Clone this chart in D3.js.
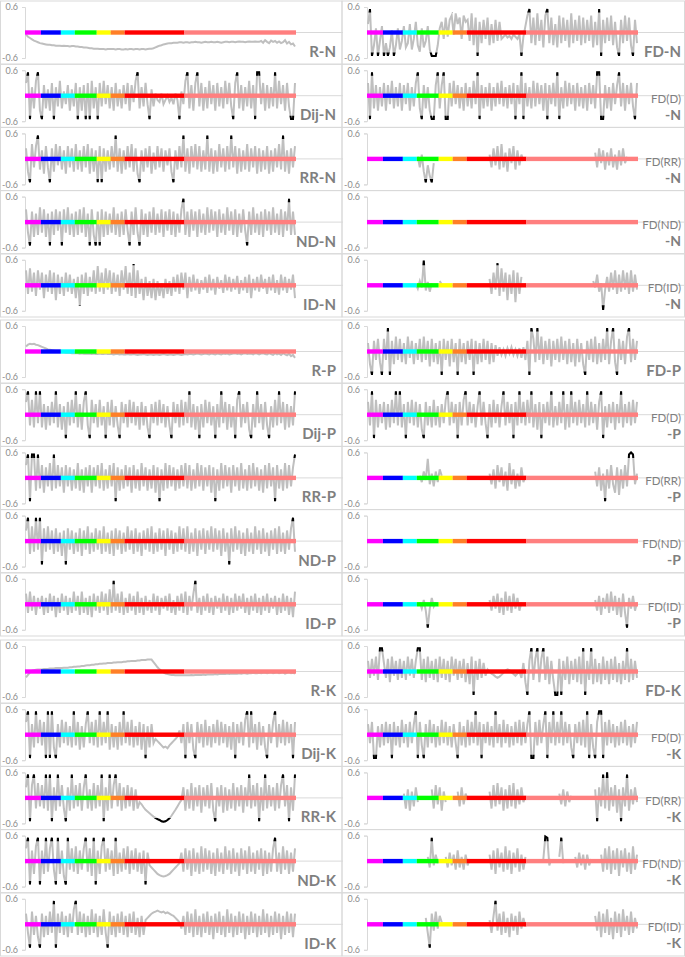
<!DOCTYPE html>
<html>
<head>
<meta charset="utf-8">
<script src="https://cdn.jsdelivr.net/npm/d3@7"></script>
<style>
  body { margin: 0; background: #fff; }
  svg { display: block; font-family: Lato, "Open Sans", sans-serif; }
</style>
</head>
<body>
<svg id="chart" width="685" height="957"></svg>
<script>
// ---- data (values in hundredths) ----
// band categories along the x axis, size = number of positions
const bandNames = ["magenta", "blue", "cyan", "green", "yellow", "orange", "red", "salmon"];
const bandSizes = [8, 10, 7, 11, 7, 7, 30, 56];
const yTicks = [-0.6, 0.6];

const leftLabels = ["R-N", "Dij-N", "RR-N", "ND-N", "ID-N", "R-P", "Dij-P", "RR-P", "ND-P", "ID-P", "R-K", "Dij-K", "RR-K", "ND-K", "ID-K"];
const rightLabels = ["FD-N", "FD(D)|-N", "FD(RR)|-N", "FD(ND)|-N", "FD(ID)|-N", "FD-P", "FD(D)|-P", "FD(RR)|-P", "FD(ND)|-P", "FD(ID)|-P", "FD-K", "FD(D)|-K", "FD(RR)|-K", "FD(ND)|-K", "FD(ID)|-K"];

// left column
const rN = [-5,-10,-13,-16,-19,-21,-23,-25, -26,-27,-28,-29,-29,-30,-30,-31,-31,-31, -32,-31,-32,-32,-33,-32,-32,
  -33,-33,-34,-34,-35,-35,-36,-37,-37,-38,-38, -38,-39,-39,-39,-40,-39,-39, -39,-39,-40,-39,-39,-40,-40,
  -39,-40,-39,-39,-40,-39,-39,-40,-39,-39,-40,-39,-38,-38,-37,-35,-33,-31,-30,-28,-27,-26,-25,-25,-24,-24,-24,-23,-23,-24,
  -23,-23,-24,-23,-23,-22,-23,-23,-24,-23,-22,-23,-23,-22,-23,-23,-22,-23,-24,-23,-22,-22,-23,-22,-22,-23,-22,-21,-22,-22,
  -23,-22,-21,-22,-22,-21,-22,-22,-20,-24,-18,-22,-25,-19,-22,-20,-24,-21,-25,-23,-18,-26,-22,-28,-26,-33];
const dijN = [30,55,-55,20,-30,35,55,-35, -55,25,-30,15,-35,30,-55,20,-25,35, -30,10,-20,25,-35,15,-25,
  30,-55,20,-35,25,-55,30,-55,35,-30,20, -55,30,-25,35,-20,25,-30, 20,-35,30,-25,15,-30,25,
  -20,30,-35,25,-15,35,55,-30,20,-25,30,-20,-55,15,-25,5,-10,-15,5,-20,-10,0,-15,-5,-20,5,-10,-55,10,-20,
  35,55,-30,25,-35,30,55,-25,30,-35,20,-30,35,-20,25,-35,30,-25,20,-30,35,-20,30,-25,-55,30,55,-30,25,-35,
  20,-25,35,-30,25,-55,55,55,-20,30,-35,25,-30,20,-25,55,-30,35,-20,25,-35,30,-25,-55,-55,30];
const rrN = [25,-30,-55,35,-20,30,55,-25, 20,-35,30,-20,-55,25,-30,35,-15,30, -25,20,-35,30,-20,25,-30,
  35,-25,20,-30,30,-20,35,-35,25,-30,20, -55,30,-55,25,-30,20,-25, 30,-20,55,-30,25,-35,20,
  -25,30,-20,35,-30,25,-35,-55,20,-30,25,-20,30,-35,15,-25,30,-20,25,-30,20,-15,25,-30,-55,20,-25,30,-20,55,
  -30,25,-35,30,-20,35,-25,30,-30,20,-25,55,-30,25,-35,20,-30,35,-20,25,-30,30,-25,55,-20,30,-35,25,-30,20,
  -25,35,-30,25,-20,30,-35,25,-30,20,-25,30,-35,20,-30,25,-20,35,-25,55,-30,20,-35,25,-20,30];
const ndN = [30,-25,-55,25,-35,20,-30,35, -25,30,-35,20,-55,25,-30,30,-20,25, -55,30,-25,35,-30,20,-35,
  25,-30,30,-25,35,-35,20,-55,30,-30,-55, 25,-55,30,-35,25,-30,20, -25,35,-30,20,-35,25,-30,
  30,-20,-55,25,-30,35,-25,-55,30,-30,20,-35,25,-25,35,-30,20,-25,30,-35,25,-20,30,-30,25,-35,20,-25,30,55,
  -30,25,-35,30,-20,25,-35,30,-25,20,-30,35,-25,30,-20,25,-35,30,-25,20,-30,35,-20,25,-30,30,-35,20,-25,30,
  -20,-55,25,-30,35,-25,20,-30,25,-35,30,-20,25,-30,35,-25,20,-30,30,-35,25,-20,55,-30,25,-30];
const idN = [35,-20,40,-15,30,-25,35,-10, 30,-30,25,-15,35,-20,30,-35,25,-20, 20,-25,30,-15,25,-20,15,
  -30,20,-48,25,-20,30,-25,20,-15,35,-20, 45,-15,30,-20,40,-10,35, -20,30,-15,25,-25,35,-10,
  45,-20,30,-25,50,-30,35,-20,15,-35,20,-25,10,-30,15,-35,10,-25,5,-30,15,-20,10,-25,20,-15,25,-20,30,-10,
  30,-30,20,-15,25,-12,15,-20,12,-10,20,-18,25,-12,15,-22,20,-8,12,-18,25,-12,20,-15,15,-10,22,-20,12,-12,
  20,-18,25,-30,15,-12,20,-15,25,-8,15,-20,20,-12,25,-18,12,-22,25,-12,20,-18,15,-10,25,-30];
const rP = [12,16,18,17,18,16,15,13, 11,9,7,5,4,3,2,1,0,-1, -2,-2,-3,-3,-3,-4,-4,
  -4,-4,-5,-4,-5,-5,-5,-5,-6,-5,-6, -6,-5,-6,-6,-5,-6,-6, -6,-7,-6,-6,-7,-6,-7,
  -7,-6,-7,-7,-6,-7,-8,-7,-7,-6,-7,-8,-7,-7,-8,-7,-7,-8,-7,-6,-7,-8,-7,-7,-8,-7,-6,-7,-8,-7,
  -6,-7,-6,-6,-7,-6,-5,-6,-7,-6,-5,-6,-7,-5,-6,-7,-5,-6,-7,-5,-6,-5,-7,-6,-5,-4,-6,-5,-7,-5,
  -4,-6,-5,-5,-7,-4,-5,-7,-5,-4,-6,-7,-4,-6,-8,-4,-7,-5,-8,-4,-7,-9,-5,-11,-8,-15];
const dijP = [30,55,-25,35,-30,55,-20,55, -30,25,-35,20,-25,30,-20,55,-30,25, -35,20,-55,30,-25,35,-20,
  55,-30,25,-35,30,55,-25,-55,35,-20,25, -30,35,-25,20,-55,30,-25, 35,-30,20,-25,-55,30,-20,
  25,-30,35,-20,30,-25,20,-35,30,-25,20,-30,-55,25,-20,30,-25,35,-20,25,-30,20,-25,-55,30,-20,25,-30,35,-25,
  30,-20,55,-30,25,-35,20,-55,25,-30,35,-20,30,-25,20,-55,25,-30,55,-20,30,-35,25,-30,20,-55,35,55,-30,25,
  -20,30,-35,-55,25,-30,55,-20,25,-35,30,-25,-55,20,-30,35,-25,55,-20,30,-35,25,-30,20,-25,55];
const rrP = [30,55,-55,55,55,-30,55,-25, 30,-35,25,-20,35,-30,55,-25,30,-20, 25,-35,30,-20,25,-30,20,
  -25,35,-30,20,-35,25,-20,30,-35,25,-20, 30,-25,35,-30,20,-25,30, -20,35,-55,25,-30,20,-25,
  30,-20,25,-35,30,-25,20,-30,35,-20,25,-30,20,-25,30,-35,25,-55,20,-30,35,-25,30,-20,25,-30,20,-25,30,-20,
  35,-25,30,-30,20,-25,35,-20,30,-30,25,-20,30,-35,25,-55,20,-30,35,-25,30,-20,25,-35,30,-20,25,-30,35,-25,
  20,-30,30,-25,35,-20,25,-30,20,-35,30,-25,35,-20,25,-55,30,-25,20,-30,35,-25,30,-20,25,55];
const ndP = [25,55,-30,35,-25,55,-20,55, -55,30,-25,35,-20,25,-30,30,-25,20, -35,25,-55,30,-20,25,-30,
  20,-25,30,-35,25,-20,35,-30,20,-25,30, -20,25,-30,35,-25,20,-30, 25,-35,30,-20,25,-30,20,
  -25,35,-20,25,-30,30,-25,20,-35,25,-20,30,-25,35,-30,20,-25,30,-20,25,-35,30,-20,25,-30,20,-25,35,-20,30,
  -25,35,-30,20,-25,30,-35,25,-20,30,-30,25,-20,35,-25,30,-20,25,-35,30,-25,20,-55,30,-25,35,-20,25,-30,20,
  -35,30,-25,20,-30,35,-20,25,-30,30,-25,20,-35,25,-20,30,-30,35,-25,20,-30,25,-20,30,55,-25];
const idP = [25,-20,30,-15,20,-25,15,-10, 20,-25,15,-20,25,-15,20,-30,15,-20, 25,-15,20,-25,15,-20,30,
  -15,20,-25,30,-20,15,-25,20,-30,25,-15, 20,-20,30,-15,25,-25,35, -20,55,-15,25,-20,30,-25,
  15,-20,25,-15,20,-25,30,-20,15,-25,20,-15,10,-20,25,-15,20,-25,15,-10,20,-15,25,-20,10,-25,20,-15,25,-20,
  30,-25,20,-15,25,55,-20,15,-25,20,-15,25,-20,15,-25,20,-10,15,-20,25,-15,20,-25,15,-20,25,-15,20,-10,25,
  -20,15,-25,20,-15,25,-20,15,-25,20,-15,25,-20,15,-10,20,-25,15,-20,25,-15,20,-25,15,-30,30];
const rK = [-14,-8,-2,2,3,4,5,5, 5,6,6,6,7,7,7,8,8,8, 8,9,9,9,10,10,11,
  11,12,12,13,13,14,15,15,16,16,17, 17,18,18,19,19,20,20, 20,21,21,22,22,22,23,
  23,24,24,25,25,25,26,26,27,27,27,28,28,28,22,16,10,5,1,-2,-5,-6,-7,-8,-8,-9,-9,-9,-9,-9,
  -9,-9,-9,-8,-9,-8,-8,-8,-8,-7,-8,-7,-7,-7,-7,-6,-7,-6,-6,-6,-6,-5,-6,-5,-5,-5,-5,-4,-5,-4,
  -4,-5,-4,-4,-3,-4,-4,-3,-4,-3,-3,-4,-3,-2,-4,-3,-2,-4,-3,-2,-5,-3,-2,-4,-3,-5];
const dijK = [30,55,-55,25,-30,55,-20,35, -25,30,-55,55,-55,55,-30,-55,25,-30, 35,-20,30,-25,20,-30,55,
  -25,30,-35,20,-30,25,55,-20,30,-25,35, -30,55,-25,30,-20,55,-35, 25,-30,20,-35,30,-25,55,
  -20,30,-25,35,-30,20,-25,30,-35,25,-55,20,-30,25,-20,-10,-15,-20,-25,-30,-28,-32,-25,-20,-15,-10,-5,10,-20,25,
  -55,30,-20,25,-35,-55,30,-20,25,-30,35,-25,20,-30,25,-20,35,-25,30,-20,25,-30,20,-35,30,-55,25,-20,30,-25,
  35,55,-30,55,-20,25,-35,30,-25,20,-30,-55,25,-20,30,55,-30,25,-20,35,-25,30,-20,25,-55,30];
const rrK = [25,55,-55,30,55,-25,35,-20, 30,-25,55,-30,55,-55,25,-30,55,-20, 30,-25,-55,25,-30,55,-25,
  30,-20,35,-30,25,55,-25,20,-30,35,-25, 30,-20,55,-55,25,-30,55, -25,30,55,-20,35,-30,25,
  -25,30,-20,25,-30,20,-25,-10,-15,-22,-28,-32,-36,-40,-44,-47,-50,-52,-55,-56,-55,-52,-48,-42,-35,-28,-20,-12,-5,25,
  -30,20,-25,35,-30,25,-20,30,-35,25,-20,30,-25,35,-30,-55,25,-20,30,-35,25,-30,20,-25,35,-30,25,-20,30,-35,
  25,-20,55,-25,30,-20,35,-55,25,-30,55,-25,30,-20,25,-30,35,-25,30,55,-20,30,-55,25,-30,55];
const ndK = [30,55,-55,25,-30,35,55,-55, 25,-30,55,-25,30,55,-20,-55,55,-30, 25,-35,-55,55,-20,30,-25,
  35,-30,25,-20,30,55,-25,30,-35,55,-55, 25,-30,35,55,-25,30,-20, 25,-35,55,-30,20,-25,30,
  -20,35,-30,25,-20,30,-25,20,-30,25,-55,20,-10,-15,-20,-25,-30,-33,-35,-36,-35,-33,-30,-25,-20,-15,-10,-5,20,-25,
  30,-20,25,-35,30,-25,20,-30,35,-25,30,-20,25,-30,20,-35,30,-25,20,-30,35,-20,25,-30,30,-25,20,-35,30,-20,
  25,-30,35,-25,20,-30,25,-20,30,-35,25,-30,20,-25,30,55,-25,20,-30,35,-20,25,-30,20,-25,30];
const idK = [25,-20,-55,30,-25,20,-30,-55, 25,-30,20,-25,30,-20,55,-55,25,-20, 30,-25,20,-30,25,-20,35,
  55,-25,30,-20,25,-30,20,-25,35,-20,25, -30,20,-25,35,-20,-55,30, -25,20,-30,25,-20,30,-25,
  20,-30,25,-20,30,-25,15,-30,20,-25,10,15,20,25,28,30,32,30,28,30,26,28,25,22,20,15,10,5,-10,20,
  -25,30,-20,25,-30,35,-25,20,-30,25,-20,30,-25,20,-35,25,-20,30,-25,20,-30,35,-20,25,-30,20,-25,30,-20,25,
  -35,20,-25,30,-20,25,-30,20,-25,35,-20,25,-30,20,-25,30,-20,25,-35,20,-25,30,-20,25,-30,25];

// right column (sparse ones are [start position, values] runs)
const fdN = [20,55,-55,-30,10,-55,-20,15, -55,-25,-55,-35,5,-55,-30,10,-40,-20, 15,-35,-25,20,-40,-15,25,
  -30,-45,10,-35,-20,15,-40,-55,-55,-55,-30, 10,25,-15,35,-10,30,40, -5,45,20,35,-15,40,25,
  30,-20,45,-30,35,-55,25,-25,30,-15,35,-30,20,-25,30,-20,25,-15,-10,-5,-12,-8,-15,-5,-10,-15,-5,-55,-10,15,
  40,55,-25,35,-30,45,-20,30,-35,40,55,-25,35,-30,20,-35,40,-25,35,-20,30,-35,45,-25,30,-20,40,-30,35,-25,
  30,-20,40,-35,25,-30,55,-55,30,-25,35,-20,40,-30,25,-35,-55,30,-25,40,-20,35,-30,-55,30,-25];
const fdD_N = [30,-55,55,-30,25,-35,20,-25, 30,-35,25,-20,35,-30,20,-25,30,-35, 25,-20,30,-35,20,-25,30,
  55,-30,-55,25,-30,20,-35,-55,-55,25,55, -30,25,55,-55,-55,30,-25, 35,-20,25,-30,20,-35,30,
  -25,20,-30,35,-20,55,-55,25,-30,20,-25,30,-35,20,-25,30,-20,35,-25,20,-30,25,-20,30,-55,25,-20,55,-55,30,
  -25,20,-30,35,-25,30,-20,25,-35,30,-55,25,-20,30,-25,55,-55,20,-30,35,-25,30,-20,25,-35,30,-25,20,-30,25,
  -35,30,-20,25,-30,55,55,-55,-55,25,-30,20,-35,30,-20,25,55,-25,30,-35,25,-20,30,-25,-55,30];
const fdRR_N = [[25, [5,-20,10,-30,-55,-15,-40,-55,-10]],
  [61, [10,-20,25,-15,30,-25,35,-20,15,-30,25,-10,30,-25,20,-15,10,-5]],
  [114, [15,-20,25,-10,20,-25,15,-15,25,-20,10,-25,20,-15,25,-10,5]]];
const fdND_N = [];
const fdID_N = [[24, [3,-8,10,-5,58,-12,8,-15,5]], [36, [10,2]],
  [61, [15,-20,30,-10,52,-25,40,-15,30,-35,25,-20,35,-40,30,-20,20]],
  [113, [10,-5,25,-15,5,-58,-10,20,-15,30,-10,35,-20,25,-15,35,-10,30,-20,35,-15,25,-10]]];
const fdP = [20,-30,-55,25,-20,30,-25,-55, 30,-20,55,-55,25,-30,35,-20,30,-25, 20,-30,35,-15,25,-30,20,
  -20,30,-25,35,-20,25,-35,30,-25,20,-30, 25,-55,30,-20,25,-35,30, -25,20,-55,30,-25,20,-30,
  25,-20,30,-55,25,-30,20,-25,30,-20,25,-30,20,-25,15,-10,10,-8,5,-10,8,-5,10,-8,5,-10,8,-15,10,-20,
  25,-55,55,30,-25,55,-20,35,-30,25,-20,30,-35,25,-20,30,-25,35,-20,25,-30,30,-25,20,-35,30,-25,20,-30,-55,
  25,-20,30,-25,35,-30,20,-25,30,-20,55,-30,25,55,-25,-55,30,-20,25,-30,35,55,-25,30,-20,25];
const fdD_P = [30,-25,55,-55,35,-30,25,-20, 30,-35,25,-30,35,-20,55,-25,55,-30, 25,-55,30,-20,35,-25,30,
  -30,25,-35,-55,30,-25,20,-30,35,-25,20, -30,25,-20,35,55,-25,30, -20,25,-55,30,-25,35,55,
  -25,30,-20,25,-30,20,55,-25,30,-20,-55,25,-30,35,-20,25,-30,20,55,-25,30,-20,25,-55,30,-25,55,-20,30,-25,
  35,-20,55,-30,25,-35,30,-55,25,-20,30,-25,55,-30,20,-25,30,-20,55,-35,25,-30,55,-20,30,-25,35,-20,25,-30,
  55,-25,30,-20,25,-35,30,55,-55,20,-30,25,-20,30,-35,25,-20,55,-30,25,-20,30,-25,35,-20,30];
const fdRR_P = [[26, [5,-10,15,-5,45,-15,10,-20,15,-10,20,5]],
  [61, [10,-15,20,-25,30,-10,25,-20,15,-30,35,-15,20,-25,10,-20,25,-10,5]],
  [114, [15,-20,25,-30,10,-55,20,-25,30,-15,-35,25,-40,20,-25,30,-20,55,60,55,-15,10]]];
const fdND_P = [];
const fdID_P = [[26, [5,-10,10,-15,-55,-10,15,-5,5]],
  [61, [10,-15,20,-10,25,-20,15,-25,30,-15,20,-20,25,-10,15,-15,5]],
  [114, [10,-15,20,-25,15,-10,25,-20,30,-15,20,-25,15,-30,25,-20,-55,15,-10,20,-15,5]]];
const fdK = [25,-15,30,-10,35,-20,55,55, 20,-15,30,-25,35,-10,25,-20,30,-15, 25,-20,35,-10,30,-15,25,
  55,55,-20,30,-25,35,-15,25,-20,30,-25, 35,-15,30,-20,25,-25,35, -10,30,-20,25,-15,30,-25,
  20,-30,35,-55,25,-20,30,-15,20,-10,5,0,-5,-8,-12,-15,-12,-8,-3,2,5,3,-2,-6,-10,-5,0,-15,20,-25,
  -55,25,55,-20,30,55,-25,30,55,-20,35,-30,25,-20,-55,-55,30,-55,25,-20,35,-30,25,-20,30,-25,35,-30,55,-55,
  25,-20,55,-30,30,-25,20,-30,35,-20,25,-30,30,-20,35,-25,20,-30,25,-20,55,-25,30,-20,25,-15];
const fdD_K = [25,-20,30,-55,-55,20,-30,25, -25,30,-20,25,-55,30,-25,20,-30,35, -20,25,-30,30,-20,25,55,
  -55,30,-25,-55,25,-30,35,-20,25,-30,20, -25,35,-20,30,-25,20,-30, 25,-20,-55,30,-25,20,-30,
  35,-25,30,-20,55,-25,30,-55,25,-20,30,-25,20,-30,55,-20,25,-30,35,-20,25,-30,20,-25,30,-20,35,-25,30,-20,
  25,55,-55,-55,30,-25,35,-20,25,55,-55,30,-20,55,-25,30,-20,55,-25,30,-20,25,-30,-55,25,-20,30,-25,35,-30,
  55,-55,25,-30,-55,30,55,55,-55,30,-25,35,-20,25,-30,20,-25,30,-20,35,-25,20,-30,25,-20,30];
const fdRR_K = [[18, [10,-25,20,-30,15,-20,25,-10]], [32, [20,-25,30,-15,25,-30,15,-10]],
  [45, [15,-20,25,-15,10,-5]],
  [61, [15,-25,30,-20,35,-15,25,-30,20,-25,30,-20,35,-25,20,-15,25,-10,5]],
  [96, [10,-15,20,-20,15,-10,5]],
  [114, [20,-55,25,-20,55,-25,60,-30,25,-20,30,-35,20,-55,25,-20,55,-30,20,-15,25,-10]]];
const fdND_K = [[30, [10,-15,55,-10,15,-5]], [39, [10,-15,20,-10,15,-20,25,-15,10,-20,15,-10,5]],
  [61, [15,-20,25,-30,30,-15,20,-25,35,-20,25,-30,20,-15,30,-25,15,-20,10]],
  [88, [5,58,55,-10,5]], [96, [10,55,-5]], [104, [10,-15,20,-10,15,-20,15,-10,5]],
  [117, [15,-25,30,-20,35,-30,25,-20,30,-35,25,-15,30,-25,20,-30,35,-20,15]]];
const fdID_K = [[29, [15,-20,-55,25,-15,30,-10,20,5]],
  [61, [10,-20,20,55,-15,25,-25,30,-20,15,-30,25,-15,20,-25,30,-10,15,-5]],
  [114, [20,-15,30,-30,25,-20,35,-25,15,-35,30,-20,25,-30,35,-15,20,-25,30,-20,15,-10]]];

const leftSeries = [rN, dijN, rrN, ndN, idN, rP, dijP, rrP, ndP, idP, rK, dijK, rrK, ndK, idK];
const rightSeries = [fdN, fdD_N, fdRR_N, fdND_N, fdID_N, fdP, fdD_P, fdRR_P, fdND_P, fdID_P, fdK, fdD_K, fdRR_K, fdND_K, fdID_K];

// ---- layout / style ----
const bandColors = ["#ff00ff", "#0000ff", "#00ffff", "#00ff00", "#ffff00", "#ff7f27", "#ff0000", "#ff7f7f"];
const nPos = d3.sum(bandSizes);
const bandStart = [0, ...d3.cumsum(bandSizes)];
const cols = [
  {x0: 0.5, x1: 342, axisX: 25, zeroEnd: 343, labelX: 336},
  {x0: 342, x1: 684.5, axisX: 367, zeroEnd: 685, labelX: 681}
];
const groupTops = [1, 320, 640];
const rowH = 63.2;
const blackCut = 0.47;

const svg = d3.select("#chart");

// turn a flat list or a list of runs into one value per position
function toValues(s) {
  let vals = new Array(nPos).fill(null);
  if (s.length && Array.isArray(s[0])) {
    s.forEach(([start, run]) => run.forEach((v, k) => { vals[start + k] = v / 100; }));
  } else {
    if (s.length && s.length !== nPos) console.warn("length", s.length);
    s.forEach((v, k) => { if (k < nPos) vals[k] = v / 100; });
  }
  return vals;
}

function drawPanel(ci, row, series, label) {
  let c = cols[ci];
  let top = groupTops[Math.floor(row / 5)] + (row % 5) * rowH;
  let id = "p" + ci + "_" + row;

  let y = d3.scaleLinear().domain([-0.6, 0.6]).range([top + 57, top + 6]);
  let x = d3.scaleLinear().domain([0, nPos]).range([c.axisX, c.axisX + 271]);
  let g = svg.append("g").attr("class", "panel");

  // frame
  g.append("rect")
    .attr("x", c.x0).attr("y", top)
    .attr("width", c.x1 - c.x0).attr("height", rowH)
    .attr("fill", "none").attr("stroke", "#d9d9d9").attr("stroke-width", 1);

  // zero line
  g.append("line")
    .attr("x1", c.axisX).attr("x2", c.zeroEnd)
    .attr("y1", y(0)).attr("y2", y(0))
    .attr("stroke", "#d9d9d9").attr("stroke-width", 1);

  // y axis
  let axis = d3.axisLeft(y).tickValues(yTicks).tickSize(3).tickPadding(4)
    .tickFormat(d => d.toFixed(1));
  let ag = g.append("g").attr("transform", `translate(${c.axisX},0)`).call(axis);
  ag.select(".domain").attr("stroke", "#d9d9d9");
  ag.selectAll(".tick line").attr("stroke", "#d9d9d9");
  ag.selectAll(".tick text").attr("fill", "#8c8c8c")
    .style("font-family", "Lato, sans-serif").style("font-size", "9px");

  // series
  let vals = toValues(series);
  let line = d3.line()
    .defined(d => d != null)
    .x((d, i) => x(i + 0.5))
    .y(d => y(d));

  g.append("path").datum(vals)
    .attr("d", line)
    .attr("fill", "none").attr("stroke", "#bfbfbf")
    .attr("stroke-width", 2).attr("stroke-linejoin", "miter");

  let clip = g.append("clipPath").attr("id", id);
  clip.append("rect").attr("x", c.x0).attr("y", top)
    .attr("width", c.x1 - c.x0).attr("height", y(blackCut) - top);
  clip.append("rect").attr("x", c.x0).attr("y", y(-blackCut))
    .attr("width", c.x1 - c.x0).attr("height", top + rowH - y(-blackCut));

  g.append("path").datum(vals)
    .attr("d", line)
    .attr("clip-path", `url(#${id})`)
    .attr("fill", "none").attr("stroke", "#000")
    .attr("stroke-width", 2);

  // coloured band on the zero line
  g.selectAll("rect.band")
    .data(bandSizes)
    .enter()
    .append("rect")
    .attr("class", "band")
    .attr("x", (d, i) => x(bandStart[i]))
    .attr("width", (d, i) => x(bandStart[i] + d) - x(bandStart[i]))
    .attr("y", y(0) - 2.2)
    .attr("height", 4.4)
    .attr("fill", (d, i) => bandColors[i]);

  // label
  let parts = label.split("|");
  let t = g.append("text")
    .attr("text-anchor", "end")
    .attr("fill", "#7f7f7f")
    .style("font-family", "Lato, sans-serif");
  if (parts.length == 1) {
    t.attr("x", c.labelX).attr("y", top + 56)
      .style("font-size", "15px").style("font-weight", "bold")
      .text(parts[0]);
  } else {
    // two separate lines, kept apart so they do not touch
    g.append("text")
      .attr("text-anchor", "end").attr("fill", "#7f7f7f")
      .attr("x", c.labelX).attr("y", top + 38.5)
      .style("font-family", "Lato, sans-serif").style("font-size", "11.5px")
      .text(parts[0]);
    t.attr("x", c.labelX).attr("y", top + 55.5)
      .style("font-size", "14px").style("font-weight", "bold")
      .text(parts[1]);
  }
}

leftSeries.forEach((s, i) => drawPanel(0, i, s, leftLabels[i]));
rightSeries.forEach((s, i) => drawPanel(1, i, s, rightLabels[i]));
</script>
</body>
</html>
